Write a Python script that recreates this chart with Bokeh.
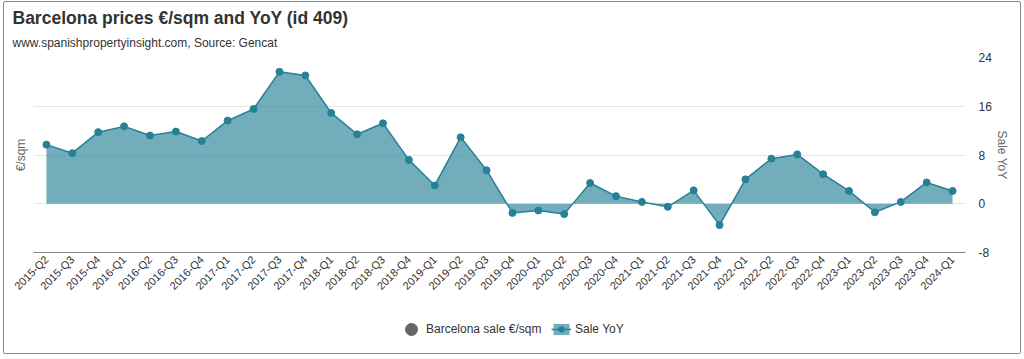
import math
from bokeh.plotting import figure
from bokeh.layouts import column
from bokeh.models import (FactorRange, Range1d, LinearAxis, FixedTicker, Title,
                          Legend, LegendItem, ColumnDataSource)
from bokeh.embed import file_html
from bokeh.resources import INLINE

quarters = ["2015-Q2", "2015-Q3", "2015-Q4", "2016-Q1", "2016-Q2", "2016-Q3", "2016-Q4",
            "2017-Q1", "2017-Q2", "2017-Q3", "2017-Q4", "2018-Q1", "2018-Q2", "2018-Q3",
            "2018-Q4", "2019-Q1", "2019-Q2", "2019-Q3", "2019-Q4", "2020-Q1", "2020-Q2",
            "2020-Q3", "2020-Q4", "2021-Q1", "2021-Q2", "2021-Q3", "2021-Q4", "2022-Q1",
            "2022-Q2", "2022-Q3", "2022-Q4", "2023-Q1", "2023-Q2", "2023-Q3", "2023-Q4",
            "2024-Q1"]
sale_yoy = [9.7, 8.3, 11.75, 12.7, 11.2, 11.85, 10.3, 13.65, 15.55, 21.65, 21.05, 14.9,
            11.4, 13.2, 7.2, 3.0, 10.9, 5.5, -1.5, -1.1, -1.7, 3.4, 1.25, 0.3, -0.5, 2.2,
            -3.5, 4.0, 7.4, 8.1, 4.85, 2.1, -1.4, 0.3, 3.5, 2.1]
price_sqm = []  # hidden series (no values shown)
yoy_ticks = [-8, 0, 8, 16, 24]
series_names = ["Barcelona sale €/sqm", "Sale YoY"]

FONT = "Liberation Sans"
TEAL = "#268196"
GRAY = "#666666"

p = figure(frame_width=932, frame_height=195, x_range=FactorRange(factors=quarters),
           y_range=Range1d(-8, 24), y_axis_location="right", title=None,
           output_backend="svg", toolbar_location=None,
           min_border_left=29, min_border_right=55, min_border_top=55, min_border_bottom=52)
p.outline_line_color = None
p.background_fill_color = "white"
p.border_fill_color = "white"

src = ColumnDataSource(data=dict(x=quarters, y=sale_yoy, base=[0] * len(sale_yoy)))
p.varea(x="x", y1="base", y2="y", source=src, fill_color=TEAL, fill_alpha=0.65)
p.line(x="x", y="y", source=src, line_color=TEAL, line_width=1.5)
p.scatter(x="x", y="y", source=src, size=7, fill_color=TEAL, line_color=TEAL)

psrc = ColumnDataSource(data=dict(x=quarters[:len(price_sqm)], y=price_sqm))
p.scatter(x="x", y="y", source=psrc, size=10, fill_color=GRAY, line_color=GRAY)

# right axis (default y axis)
ya = p.yaxis[0]
ya.ticker = FixedTicker(ticks=yoy_ticks)
ya.major_label_overrides = {-8: "-8"}
ya.axis_line_color = None
ya.major_tick_line_color = None
ya.minor_tick_line_color = None
ya.major_label_text_font = FONT
ya.major_label_text_font_size = "12px"
ya.major_label_text_color = "#333333"
ya.major_label_standoff = 7
ya.axis_label = "Sale YoY"
ya.axis_label_text_font = FONT
ya.axis_label_text_font_size = "12px"
ya.axis_label_text_font_style = "normal"
ya.axis_label_text_color = "#666666"
ya.axis_label_standoff = 0

# left axis: title only
la = LinearAxis(axis_label="€/sqm", ticker=FixedTicker(ticks=[]))
la.axis_line_color = None
la.major_tick_line_color = None
la.minor_tick_line_color = None
la.major_label_text_font_size = "0px"
la.axis_label_text_font = FONT
la.axis_label_text_font_size = "12px"
la.axis_label_text_font_style = "normal"
la.axis_label_text_color = "#666666"
la.axis_label_standoff = 6
p.add_layout(la, "left")

p.ygrid.ticker = FixedTicker(ticks=yoy_ticks)
p.ygrid.grid_line_color = "#e6e6e6"
p.xgrid.grid_line_color = None

xa = p.xaxis[0]
xa.axis_line_color = "#888888"
xa.major_tick_line_color = None
xa.minor_tick_line_color = None
xa.major_tick_out = 0
xa.major_tick_in = 0
xa.major_label_orientation = math.pi / 4
xa.major_label_text_font = FONT
xa.major_label_text_font_size = "11px"
xa.major_label_text_color = "#333333"
xa.major_label_standoff = 5

sub = Title(text="www.spanishpropertyinsight.com, Source: Gencat", align="left",
            text_font=FONT, text_font_size="12px", text_font_style="normal",
            text_color="#333333", offset=-21, standoff=16)
p.add_layout(sub, "above")
ttl = Title(text="Barcelona prices €/sqm and YoY (id 409)", align="left",
            text_font=FONT, text_font_size="17.5px", text_font_style="bold",
            text_color="#333333", offset=-21, standoff=-4)
p.add_layout(ttl, "above")

# legend strip (separate figure so the legend is not clipped)
lf = figure(width=1016, height=49, x_range=Range1d(0, 1), y_range=Range1d(0, 1),
            x_axis_location=None, y_axis_location=None, title=None,
            output_backend="svg", toolbar_location=None,
            min_border_left=0, min_border_right=0, min_border_top=0, min_border_bottom=0)
lf.outline_line_color = None
lf.grid.grid_line_color = None
proxy = ColumnDataSource(data=dict(x=[-5], y=[-5], base=[-6]))  # off-canvas legend proxies
g_price = lf.scatter(x="x", y="y", source=proxy, size=10, fill_color=GRAY, line_color=GRAY)
g_area = lf.varea(x="x", y1="base", y2="y", source=proxy, fill_color=TEAL, fill_alpha=0.65)
g_line = lf.line(x="x", y="y", source=proxy, line_color=TEAL, line_width=1.5)
g_pts = lf.scatter(x="x", y="y", source=proxy, size=7, fill_color=TEAL, line_color=TEAL)

common = dict(orientation="horizontal", label_text_font=FONT, label_text_font_size="12px",
              label_text_color="#333333", border_line_color=None,
              background_fill_alpha=0, padding=0, margin=0, spacing=0)
leg1 = Legend(items=[LegendItem(label=series_names[0], renderers=[g_price])],
              location=(363, 9.5), glyph_width=30, glyph_height=30, label_height=30,
              label_standoff=0, **common)
leg2 = Legend(items=[LegendItem(label=series_names[1], renderers=[g_area, g_line, g_pts])],
              location=(518, 17.5), glyph_width=20, glyph_height=14, label_height=14,
              label_standoff=4, **common)
lf.add_layout(leg1, "center")
lf.add_layout(leg2, "center")

layout = column(p, lf)
layout.styles = {"border": "1px solid #8a8a8a", "border-radius": "2px",
                 "margin-left": "3px", "margin-top": "1px"}

open("out.html", "w").write(file_html(layout, INLINE))
